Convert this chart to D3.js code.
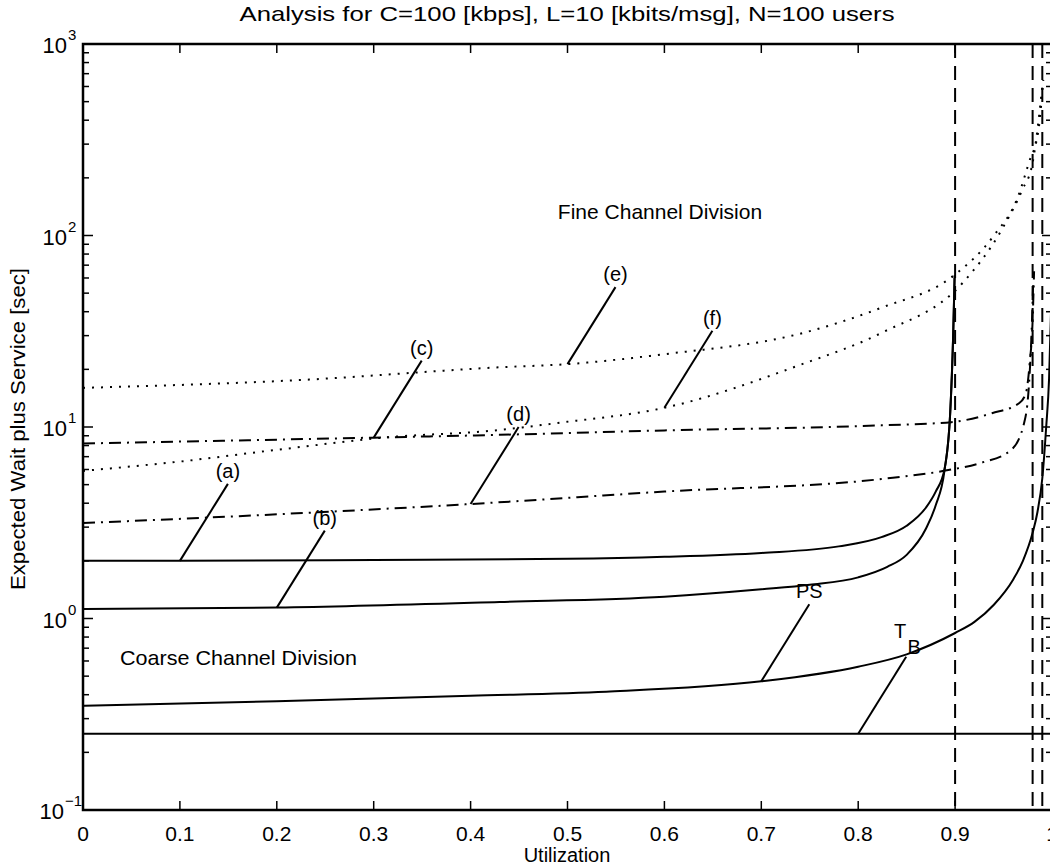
<!DOCTYPE html>
<html>
<head>
<meta charset="utf-8">
<script src="https://cdn.jsdelivr.net/npm/d3@7"></script>
<style>
  body { margin: 0; background: #fff; }
  svg { display: block; font-family: "Liberation Sans", Arial, Helvetica, sans-serif; }
  text { fill: #000; }
</style>
</head>
<body>
<svg id="chart" width="1050" height="865"></svg>
<script>
// curves: [utilization, expected wait plus service (sec)]
const curveA = [[0, 2.0], [0.1, 2.0], [0.3, 2.02], [0.5, 2.05], [0.6, 2.1], [0.7, 2.2], [0.78, 2.38],
  [0.824, 2.66], [0.85, 3.05], [0.87, 3.8], [0.88, 4.6], [0.889, 6.0], [0.895, 12], [0.898, 30], [0.8995, 62]];
const curveB = [[0, 1.12], [0.2, 1.14], [0.43, 1.22], [0.6, 1.3], [0.7, 1.42], [0.75, 1.5], [0.8, 1.64],
  [0.83, 1.86], [0.85, 2.15], [0.87, 2.95], [0.88, 3.9], [0.889, 5.9], [0.895, 12], [0.898, 30], [0.8995, 60]];
const curveC = [[0, 8.2], [0.3, 8.8], [0.43, 9.1], [0.6, 9.6], [0.824, 10.2], [0.896, 10.6], [0.938, 11.8],
  [0.966, 13.3], [0.973, 15.0], [0.977, 21.6], [0.980, 36], [0.9815, 65]];
const curveD = [[0, 3.15], [0.2, 3.5], [0.4, 3.96], [0.6, 4.6], [0.824, 5.35], [0.893, 5.96], [0.927, 6.5],
  [0.958, 7.6], [0.972, 10.9], [0.976, 16], [0.979, 32], [0.9805, 55]];
const curveE = [[0, 16], [0.225, 17.6], [0.43, 20.5], [0.5, 21.3], [0.6, 24], [0.74, 30.7], [0.824, 42],
  [0.899, 62], [0.94, 100], [0.965, 160], [0.976, 239], [0.986, 355], [0.991, 650]];
const curveF = [[0, 5.9], [0.1, 6.6], [0.2, 7.6], [0.31, 8.8], [0.43, 9.65], [0.49, 10.5], [0.6, 12.6],
  [0.74, 21.1], [0.824, 31], [0.907, 56], [0.948, 107], [0.969, 172], [0.98, 240], [0.99, 600]];
const curvePS = [[0, 0.35], [0.2, 0.37], [0.4, 0.395], [0.54, 0.415], [0.7, 0.47], [0.8, 0.56], [0.85, 0.65],
  [0.9, 0.84], [0.92, 0.96], [0.94, 1.18], [0.96, 1.6], [0.97, 2.0], [0.98, 2.8], [0.985, 3.6],
  [0.99, 5.4], [0.994, 10], [0.997, 18], [0.999, 40]];
const curveTB = [[0, 0.25], [1, 0.25]];
const capacityLimits = [0.9, 0.98, 0.99];

// labels: text, curve, utilization where the leader line touches it
const curveLabels = [
  { text: '(a)', curve: curveA, at: 0.1 },
  { text: '(b)', curve: curveB, at: 0.2 },
  { text: '(c)', curve: curveC, at: 0.3 },
  { text: '(d)', curve: curveD, at: 0.4 },
  { text: '(e)', curve: curveE, at: 0.5 },
  { text: '(f)', curve: curveF, at: 0.6 },
  { text: 'PS', curve: curvePS, at: 0.7 },
  { text: 'T', sub: 'B', curve: curveTB, at: 0.8 }
];

const xTicks = [0, 0.1, 0.2, 0.3, 0.4, 0.5, 0.6, 0.7, 0.8, 0.9, 1];
const xTickLabels = ['0', '0.1', '0.2', '0.3', '0.4', '0.5', '0.6', '0.7', '0.8', '0.9', '1'];
const yDecades = [-1, 0, 1, 2, 3];

const svg = d3.select('#chart');
// the right edge of the axes box sits just past the edge of the picture
const pLeft = 83, pRight = 1052, pTop = 44, pBottom = 810;

const x = d3.scaleLinear().domain([0, 1]).range([pLeft, pRight]);
const y = d3.scaleLog().domain([0.1, 1000]).range([pBottom, pTop]);

svg.append('defs').append('clipPath').attr('id', 'plot')
  .append('rect').attr('x', pLeft).attr('y', pTop).attr('width', pRight - pLeft).attr('height', pBottom - pTop);

const g = svg.append('g').attr('clip-path', 'url(#plot)');

const line = d3.line().x(d => x(d[0])).y(d => y(d[1])).curve(d3.curveMonotoneX);

// vertical capacity limits
g.selectAll('line.limit')
  .data(capacityLimits)
  .join('line')
  .attr('x1', d => x(d)).attr('x2', d => x(d))
  .attr('y1', y(1000)).attr('y2', y(0.1))
  .attr('stroke', '#000').attr('stroke-width', 2).attr('stroke-dasharray', '14,8');

const curves = [
  { data: curveA, dash: null },
  { data: curveB, dash: null },
  { data: curvePS, dash: null },
  { data: curveTB, dash: null },
  { data: curveC, dash: '12,6,2,6' },
  { data: curveD, dash: '12,6,2,6' },
  { data: curveE, dash: '2,7' },
  { data: curveF, dash: '2,7' }
];

g.selectAll('path.curve')
  .data(curves)
  .join('path')
  .attr('class', 'curve')
  .attr('d', d => line(d.data))
  .attr('fill', 'none')
  .attr('stroke', '#000')
  .attr('stroke-width', 2)
  .attr('stroke-dasharray', d => d.dash);

// value of a curve at u (log-linear interpolation between read points)
function valueAt(curve, u) {
  for (let i = 1; i < curve.length; i++) {
    if (u <= curve[i][0]) {
      const [u0, v0] = curve[i - 1], [u1, v1] = curve[i];
      const t = (u - u0) / (u1 - u0);
      return Math.exp(Math.log(v0) + t * (Math.log(v1) - Math.log(v0)));
    }
  }
  return curve[curve.length - 1][1];
}

// leader lines and labels
const lab = svg.append('g');
curveLabels.forEach(l => {
  const px = x(l.at), py = y(valueAt(l.curve, l.at));
  lab.append('line')
    .attr('x1', px).attr('y1', py)
    .attr('x2', px + 48).attr('y2', py - 77)
    .attr('stroke', '#000').attr('stroke-width', 2);
  if (l.sub) {
    lab.append('text').attr('x', px + 42).attr('y', py - 96).attr('text-anchor', 'middle')
      .attr('font-size', 20).text(l.text);
    lab.append('text').attr('x', px + 56).attr('y', py - 80).attr('text-anchor', 'middle')
      .attr('font-size', 20).text(l.sub);
  } else {
    lab.append('text').attr('x', px + 48).attr('y', py - 83).attr('text-anchor', 'middle')
      .attr('font-size', 20).text(l.text);
  }
});

svg.append('text').attr('x', 660).attr('y', 219).attr('text-anchor', 'middle')
  .attr('font-size', 21).text('Fine Channel Division');
svg.append('text').attr('x', 120).attr('y', 665)
  .attr('font-size', 21).attr('textLength', 237).attr('lengthAdjust', 'spacingAndGlyphs')
  .text('Coarse Channel Division');

// axes box and ticks (MATLAB style: ticks inward on all four sides)
const ax = svg.append('g');
ax.append('rect').attr('x', pLeft).attr('y', pTop).attr('width', pRight - pLeft).attr('height', pBottom - pTop)
  .attr('fill', 'none').attr('stroke', '#000').attr('stroke-width', 2.5);

xTicks.forEach((t, i) => {
  const px = x(t);
  ax.append('line').attr('x1', px).attr('x2', px).attr('y1', pBottom).attr('y2', pBottom - 9)
    .attr('stroke', '#000').attr('stroke-width', 1.5);
  ax.append('line').attr('x1', px).attr('x2', px).attr('y1', pTop).attr('y2', pTop + 9)
    .attr('stroke', '#000').attr('stroke-width', 1.5);
  ax.append('text').attr('x', px).attr('y', pBottom + 31).attr('text-anchor', 'middle')
    .attr('font-size', 21).text(xTickLabels[i]);
});

const minor = [];
yDecades.slice(0, -1).forEach(e => {
  for (let k = 2; k <= 9; k++) minor.push(k * Math.pow(10, e));
});
minor.forEach(v => {
  ax.append('line').attr('x1', pLeft).attr('x2', pLeft + 6).attr('y1', y(v)).attr('y2', y(v))
    .attr('stroke', '#000').attr('stroke-width', 1.5);
  ax.append('line').attr('x1', pRight).attr('x2', pRight - 6).attr('y1', y(v)).attr('y2', y(v))
    .attr('stroke', '#000').attr('stroke-width', 1.5);
});
yDecades.forEach(e => {
  const py = y(Math.pow(10, e));
  ax.append('line').attr('x1', pLeft).attr('x2', pLeft + 10).attr('y1', py).attr('y2', py)
    .attr('stroke', '#000').attr('stroke-width', 1.5);
  ax.append('line').attr('x1', pRight).attr('x2', pRight - 10).attr('y1', py).attr('y2', py)
    .attr('stroke', '#000').attr('stroke-width', 1.5);
  const tx = e < 0 ? 64 : 67;
  ax.append('text').attr('x', tx).attr('y', py + 9).attr('text-anchor', 'end')
    .attr('font-size', 22).text('10');
  ax.append('text').attr('x', tx + 1).attr('y', py - 4)
    .attr('font-size', 15).text(e < 0 ? '\u2212' + (-e) : String(e));
});

svg.append('text').attr('x', 567).attr('y', 21).attr('text-anchor', 'middle')
  .attr('font-size', 21).attr('textLength', 655).attr('lengthAdjust', 'spacingAndGlyphs')
  .text('Analysis for C=100 [kbps], L=10 [kbits/msg], N=100 users');
svg.append('text').attr('x', 567).attr('y', 862).attr('text-anchor', 'middle')
  .attr('font-size', 20).text('Utilization');
svg.append('text').attr('transform', 'translate(25,429) rotate(-90)').attr('text-anchor', 'middle')
  .attr('font-size', 21).attr('textLength', 322).attr('lengthAdjust', 'spacingAndGlyphs')
  .text('Expected Wait plus Service [sec]');
</script>
</body>
</html>
